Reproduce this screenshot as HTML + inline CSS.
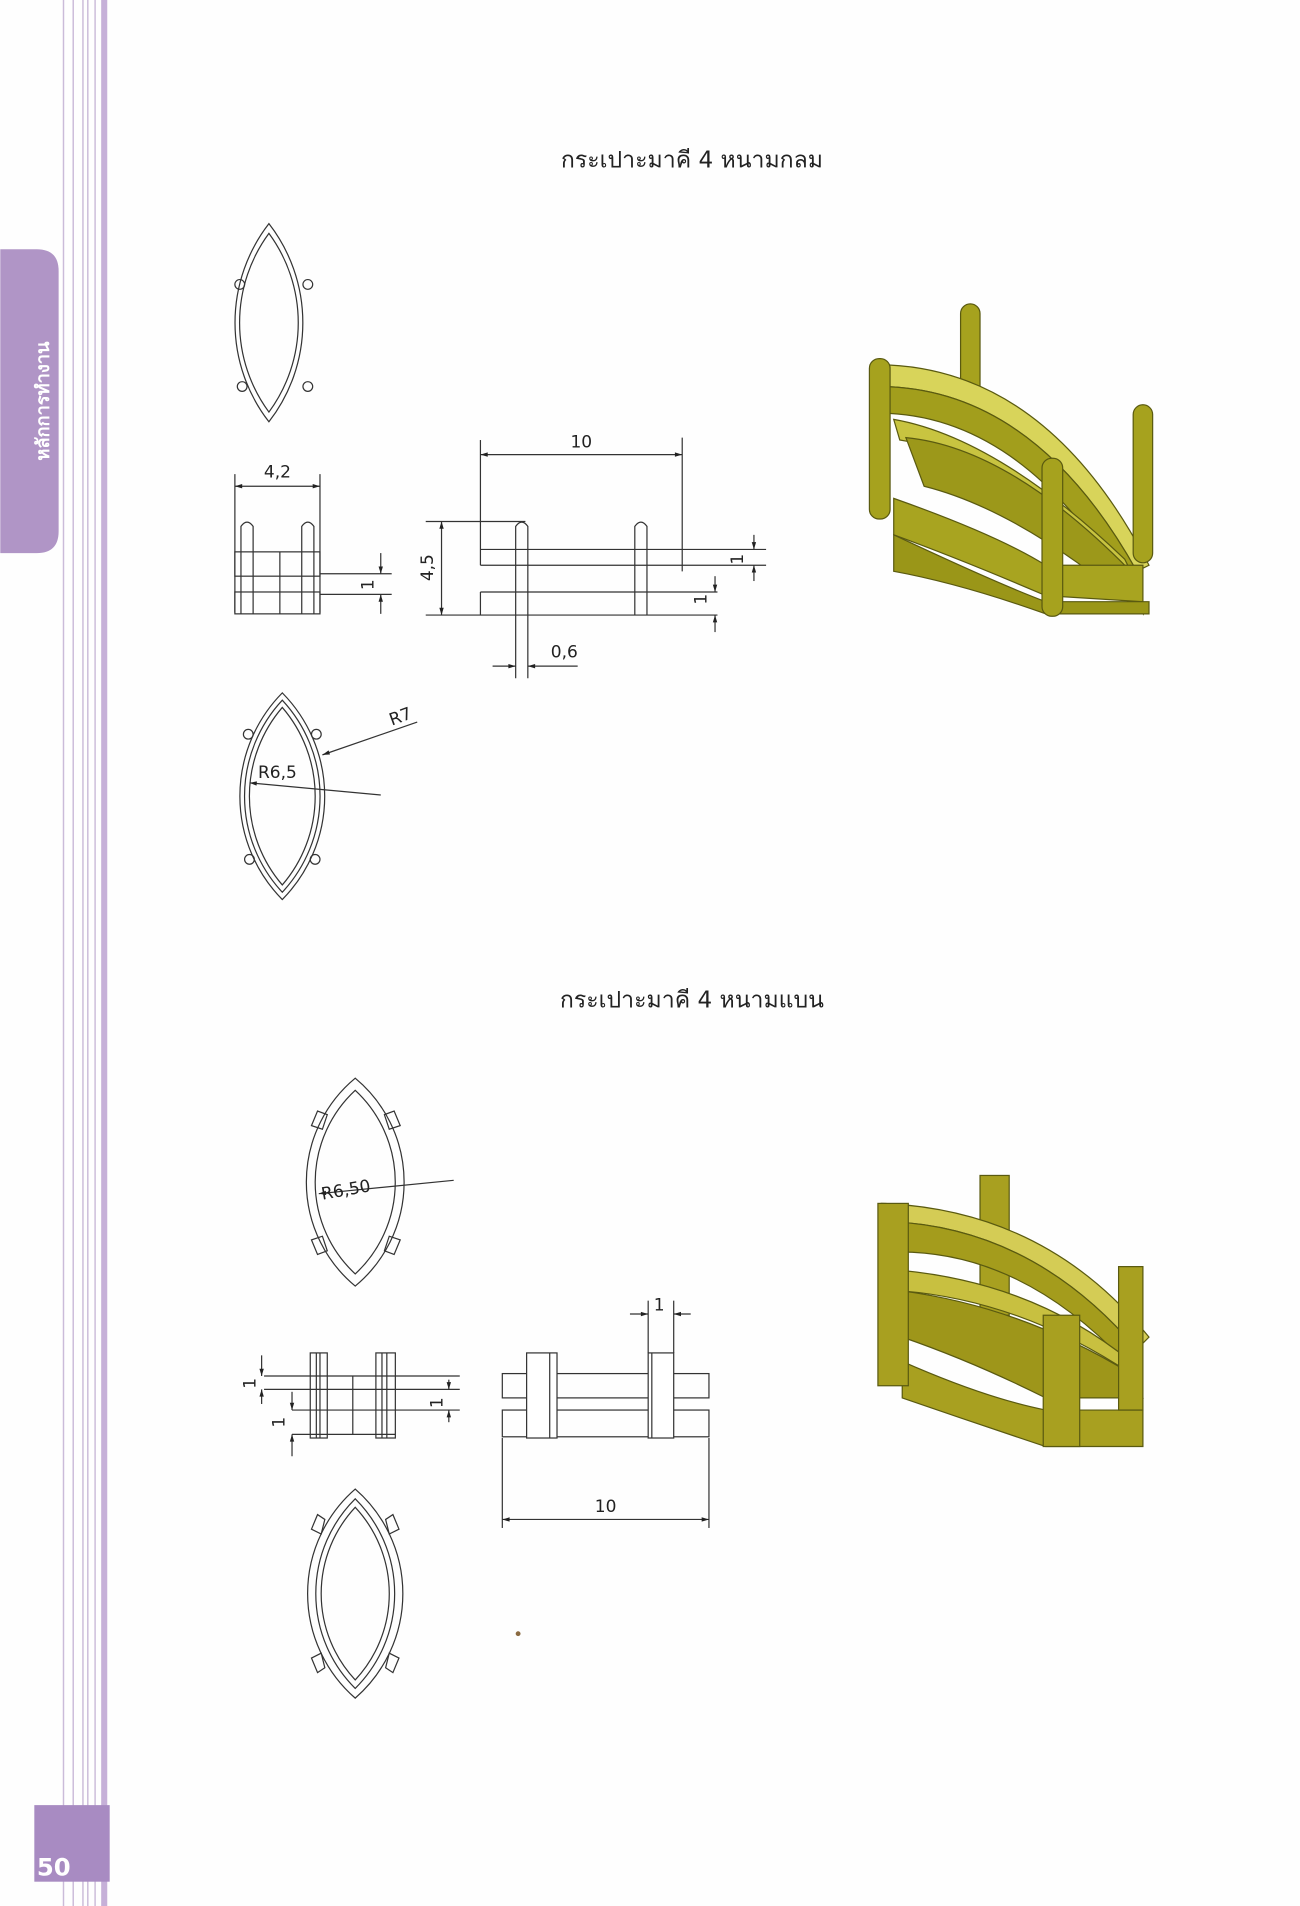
<!DOCTYPE html>
<html><head><meta charset="utf-8"><style>
html,body{margin:0;padding:0;background:#fff;}
svg{display:block;}
text{font-family:"DejaVu Sans","Liberation Sans","Noto Sans CJK SC",sans-serif;}
</style></head><body>
<svg width="1300" height="1906" viewBox="0 0 1069 1568" xmlns="http://www.w3.org/2000/svg">
<defs>
<marker id="a" viewBox="0 0 10 10" refX="10" refY="5" markerWidth="8" markerHeight="6" orient="auto-start-reverse" markerUnits="userSpaceOnUse"><path d="M0 2 L10 5 L0 8Z" fill="#222"/></marker>
</defs>
<rect width="1069" height="1568" fill="#fefefe"/>
<g stroke="#cbbbd9" stroke-width="1.2">
<line x1="52" y1="0" x2="52" y2="1568"/><line x1="60" y1="0" x2="60" y2="1568"/>
<line x1="68" y1="0" x2="68" y2="1568"/><line x1="72" y1="0" x2="72" y2="1568"/>
<line x1="78" y1="0" x2="78" y2="1568"/>
</g>
<rect x="83" y="0" width="5" height="1568" fill="#c6b0d8"/>
<path d="M0 205 H30 Q48 205 48 223 V437 Q48 455 30 455 H0 Z" fill="#b095c6"/>
<text transform="translate(40 330) rotate(-90)" text-anchor="middle" font-size="15" font-weight="bold" fill="#fff" font-family="Liberation Sans, Noto Sans CJK SC, sans-serif">หลักการทำงาน</text>
<rect x="28" y="1485" width="62" height="63" fill="#a88bc2"/>
<text x="44" y="1543" text-anchor="middle" font-size="20" font-weight="bold" fill="#fff">50</text>

<text x="569" y="138" text-anchor="middle" font-size="19" fill="#222" font-family="Liberation Sans, Noto Sans CJK SC, sans-serif">กระเปาะมาคี 4 หนามกลม</text>
<text x="569" y="829" text-anchor="middle" font-size="19" fill="#222" font-family="Liberation Sans, Noto Sans CJK SC, sans-serif">กระเปาะมาคี 4 หนามแบน</text>

<g fill="none" stroke="#333" stroke-width="1">
<!-- marquise 1 -->
<path d="M221 184 A133 133 0 0 1 221 347 A133 133 0 0 1 221 184Z"/>
<path d="M221 192 A124 124 0 0 1 221 339 A124 124 0 0 1 221 192Z"/>
<circle cx="197" cy="234" r="4"/><circle cx="253" cy="234" r="4"/>
<circle cx="199" cy="318" r="4"/><circle cx="253" cy="318" r="4"/>

<!-- side view small -->
<line x1="193" y1="390" x2="193" y2="504"/><line x1="263" y1="390" x2="263" y2="504"/>
<line x1="193" y1="400" x2="263" y2="400" marker-start="url(#a)" marker-end="url(#a)"/>
<rect x="193" y="454" width="70" height="20"/><rect x="193" y="487" width="70" height="18"/>
<line x1="230" y1="454" x2="230" y2="505"/>
<path d="M198 505 V433 Q203 426 208 433 V505"/><path d="M248 505 V433 Q253 426 258 433 V505"/>
<line x1="263" y1="472" x2="322" y2="472"/><line x1="263" y1="489" x2="322" y2="489"/>
<line x1="313" y1="455" x2="313" y2="472" marker-end="url(#a)"/><line x1="313" y1="505" x2="313" y2="489" marker-end="url(#a)"/>

<!-- front view -->
<line x1="395" y1="362" x2="395" y2="465"/><line x1="561" y1="360" x2="561" y2="470"/>
<line x1="395" y1="374" x2="561" y2="374" marker-start="url(#a)" marker-end="url(#a)"/>
<line x1="350" y1="429" x2="432" y2="429"/>
<line x1="395" y1="452" x2="630" y2="452"/><line x1="395" y1="465" x2="630" y2="465"/>
<line x1="395" y1="487" x2="590" y2="487"/><line x1="395" y1="487" x2="395" y2="506"/>
<line x1="350" y1="506" x2="590" y2="506"/>
<line x1="363" y1="429" x2="363" y2="506" marker-start="url(#a)" marker-end="url(#a)"/>
<path d="M424 558 V433 Q429 426 434 433 V558"/>
<path d="M522 506 V433 Q527 426 532 433 V506"/>
<line x1="405" y1="548" x2="424" y2="548" marker-end="url(#a)"/><line x1="475" y1="548" x2="434" y2="548" marker-end="url(#a)"/>
<line x1="620" y1="440" x2="620" y2="452" marker-end="url(#a)"/><line x1="620" y1="478" x2="620" y2="465" marker-end="url(#a)"/>
<line x1="588" y1="474" x2="588" y2="487" marker-end="url(#a)"/><line x1="588" y1="520" x2="588" y2="506" marker-end="url(#a)"/>

<!-- marquise R -->
<path d="M232 570 A121 121 0 0 1 232 740 A121 121 0 0 1 232 570Z"/>
<path d="M232 576 A116 116 0 0 1 232 734 A116 116 0 0 1 232 576Z"/>
<path d="M232 582 A112 112 0 0 1 232 728 A112 112 0 0 1 232 582Z"/>
<circle cx="204" cy="604" r="4"/><circle cx="260" cy="604" r="4"/>
<circle cx="205" cy="707" r="4"/><circle cx="259" cy="707" r="4"/>
<line x1="343" y1="594" x2="265" y2="621" marker-end="url(#a)"/>
<line x1="313" y1="654" x2="205" y2="644" marker-end="url(#a)"/>

<!-- marquise 2 -->
<path d="M292 887 A111 111 0 0 1 292 1058 A111 111 0 0 1 292 887Z"/>
<path d="M292 897 A103 103 0 0 1 292 1048 A103 103 0 0 1 292 897Z"/>
<line x1="373" y1="971" x2="262" y2="982" marker-end="url(#a)"/>
<path d="M256 926 l5 -12 8 3 -4 12Z"/><path d="M329 926 l-5 -12 -8 3 4 12Z"/>
<path d="M256 1020 l5 12 8 -3 -4 -12Z"/><path d="M329 1020 l-5 12 -8 -3 4 -12Z"/>

<!-- side view 2 -->
<line x1="217" y1="1132" x2="378" y2="1132"/><line x1="217" y1="1143" x2="378" y2="1143"/>
<line x1="240" y1="1160" x2="378" y2="1160"/><line x1="240" y1="1180" x2="325" y2="1180"/>
<line x1="290" y1="1132" x2="290" y2="1180"/>
<rect x="255" y="1113" width="14" height="70"/><line x1="260" y1="1113" x2="260" y2="1183"/><line x1="263" y1="1113" x2="263" y2="1183"/>
<rect x="309" y="1113" width="16" height="70"/><line x1="314" y1="1113" x2="314" y2="1183"/><line x1="318" y1="1113" x2="318" y2="1183"/>
<line x1="215" y1="1115" x2="215" y2="1132" marker-end="url(#a)"/><line x1="215" y1="1155" x2="215" y2="1143" marker-end="url(#a)"/>
<line x1="369" y1="1135" x2="369" y2="1143" marker-end="url(#a)"/><line x1="369" y1="1170" x2="369" y2="1160" marker-end="url(#a)"/>
<line x1="240" y1="1145" x2="240" y2="1160" marker-end="url(#a)"/><line x1="240" y1="1198" x2="240" y2="1180" marker-end="url(#a)"/>

<!-- front view 2 -->
<rect x="413" y="1130" width="170" height="20"/><rect x="413" y="1160" width="170" height="22"/>
<rect x="433" y="1113" width="25" height="70" fill="#fff"/><line x1="452" y1="1113" x2="452" y2="1183"/>
<rect x="533" y="1113" width="21" height="70" fill="#fff"/><line x1="536" y1="1113" x2="536" y2="1183"/>
<line x1="533" y1="1070" x2="533" y2="1113"/><line x1="554" y1="1070" x2="554" y2="1113"/>
<line x1="518" y1="1081" x2="533" y2="1081" marker-end="url(#a)"/><line x1="568" y1="1081" x2="554" y2="1081" marker-end="url(#a)"/>
<line x1="413" y1="1183" x2="413" y2="1257"/><line x1="583" y1="1183" x2="583" y2="1257"/>
<line x1="413" y1="1250" x2="583" y2="1250" marker-start="url(#a)" marker-end="url(#a)"/>

<!-- marquise bottom -->
<path d="M292 1225 A114 114 0 0 1 292 1397 A114 114 0 0 1 292 1225Z"/>
<path d="M292 1233 A110 110 0 0 1 292 1389 A110 110 0 0 1 292 1233Z"/>
<path d="M292 1240 A104 104 0 0 1 292 1382 A104 104 0 0 1 292 1240Z"/>
<path d="M256 1258 l5 -12 6 4 -3 12Z"/><path d="M328 1258 l-5 -12 -6 4 3 12Z"/>
<path d="M256 1364 l5 12 6 -4 -3 -12Z"/><path d="M328 1364 l-5 12 -6 -4 3 -12Z"/>
</g>
<g font-size="14" fill="#222">
<text x="228" y="393" text-anchor="middle">4,2</text>
<text x="478" y="368" text-anchor="middle">10</text>
<text x="464" y="541" text-anchor="middle">0,6</text>
<text transform="translate(356 467) rotate(-90)" text-anchor="middle">4,5</text>
<text transform="translate(307 481) rotate(-90)" text-anchor="middle">1</text>
<text transform="translate(611 460) rotate(-90)" text-anchor="middle">1</text>
<text transform="translate(581 493) rotate(-90)" text-anchor="middle">1</text>
<text x="322" y="597" transform="rotate(-20 322 597)">R7</text>
<text x="212" y="640">R6,5</text>
<text x="265" y="987" transform="rotate(-10 265 987)">R6,50</text>
<text transform="translate(210 1138) rotate(-90)" text-anchor="middle">1</text>
<text transform="translate(234 1170) rotate(-90)" text-anchor="middle">1</text>
<text transform="translate(364 1154) rotate(-90)" text-anchor="middle">1</text>
<text x="542" y="1078" text-anchor="middle">1</text>
<text x="498" y="1244" text-anchor="middle">10</text>
</g>

<!-- gold object 1 -->
<g stroke="#5a5a10" stroke-width="1">
<rect x="790" y="250" width="16" height="105" rx="8" fill="#a6a21e"/>
<path d="M720 300 Q860 300 945 465 L935 470 Q850 318 722 318Z" fill="#d8d45a"/>
<path d="M722 318 Q850 318 935 470 L930 490 Q845 345 730 340Z" fill="#a29e1c"/>
<path d="M735 345 Q820 360 925 460 L930 470 Q825 375 740 362Z" fill="#c8c440"/>
<path d="M745 360 Q830 368 930 470 L940 505 Q840 420 760 400Z" fill="#9c981a"/>
<path d="M735 410 Q820 440 860 465 L940 465 L940 495 L860 490 Q790 460 735 440Z" fill="#a8a420"/>
<path d="M735 440 Q820 480 860 495 L945 495 L945 505 L860 505 Q790 480 735 470Z" fill="#9a9618"/>
<rect x="715" y="295" width="17" height="132" rx="8" fill="#a6a21e"/>
<rect x="932" y="333" width="16" height="130" rx="8" fill="#a6a21e"/>
<rect x="857" y="377" width="17" height="130" rx="8" fill="#a6a21e"/>
</g>

<!-- gold object 2 -->
<g stroke="#5a5a10" stroke-width="1">
<rect x="806" y="967" width="24" height="115" fill="#a8a020"/>
<path d="M725 990 Q860 995 945 1100 L935 1110 Q850 1010 732 1005Z" fill="#d4cc55"/>
<path d="M732 1005 Q850 1010 935 1110 L925 1120 Q840 1030 740 1030Z" fill="#a49c1c"/>
<path d="M740 1045 Q850 1055 930 1120 L930 1130 Q840 1070 742 1062Z" fill="#c8c040"/>
<path d="M742 1062 Q840 1075 930 1130 L940 1150 L860 1150 Q800 1120 742 1100Z" fill="#9e961a"/>
<path d="M742 1120 Q810 1150 860 1160 L940 1160 L940 1190 L860 1190 Q800 1170 742 1150Z" fill="#a8a020"/>
<rect x="722" y="990" width="25" height="150" fill="#a8a020"/>
<rect x="920" y="1042" width="20" height="118" fill="#a8a020"/>
<rect x="858" y="1082" width="30" height="108" fill="#a8a020"/>
</g>
<circle cx="426" cy="1344" r="2" fill="#8a6a40"/>
</svg>
</body></html>
